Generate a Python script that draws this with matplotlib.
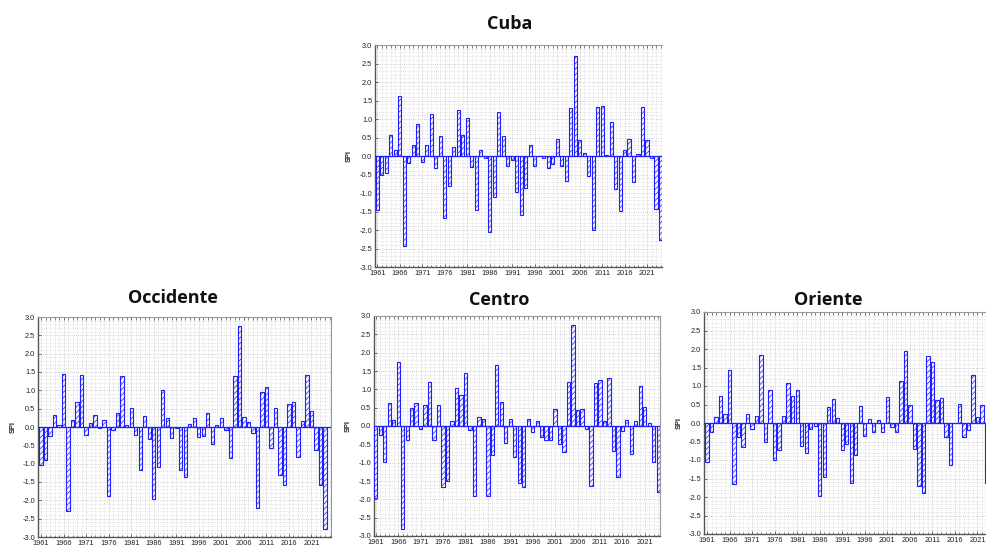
import numpy as np
import matplotlib.pyplot as plt
from matplotlib.ticker import MultipleLocator, FixedLocator

years = np.arange(1961, 2025)

cuba = [-1.46, -0.51, -0.46, 0.57, 0.15, 1.63, -2.43, -0.19, 0.30, 0.87,
        -0.16, 0.30, 1.13, -0.33, 0.54, -1.67, -0.82, 0.24, 1.25, 0.57,
        1.03, -0.30, -1.46, 0.17, -0.06, -2.06, -1.11, 1.20, 0.54, -0.27,
        -0.11, -0.97, -1.60, -0.87, 0.29, -0.27, 0.00, -0.05, -0.33, -0.22,
        0.47, -0.27, -0.68, 1.30, 2.70, 0.42, 0.08, -0.53, -2.00, 1.33,
        1.35, 0.02, 0.93, -0.88, -1.48, 0.17, 0.47, -0.70, 0.05, 1.33,
        0.42, -0.05, -1.42, -2.27]

occidente = [-1.03, -0.89, -0.25, 0.33, 0.05, 1.45, -2.28, 0.18, 0.68, 1.42,
             -0.21, 0.10, 0.33, -0.03, 0.19, -1.88, -0.08, 0.38, 1.39, 0.05,
             0.51, -0.22, -1.17, 0.31, -0.34, -1.95, -1.09, 1.00, 0.24, -0.30,
             -0.03, -1.17, -1.36, 0.08, 0.25, -0.26, -0.25, 0.38, -0.46, 0.05,
             0.25, -0.08, -0.85, 1.39, 2.75, 0.26, 0.14, -0.17, -2.20, 0.96,
             1.08, -0.57, 0.52, -1.32, -1.58, 0.63, 0.68, -0.82, 0.17, 1.43,
             0.43, -0.62, -1.58, -2.77]

centro = [-1.95, -0.24, -0.97, 0.64, 0.17, 1.75, -2.80, -0.39, 0.50, 0.64,
          -0.09, 0.56, 1.21, -0.39, 0.58, -1.65, -1.51, 0.15, 1.05, 0.85,
          1.45, -0.10, -1.92, 0.25, 0.20, -1.90, -0.78, 1.67, 0.65, -0.45,
          0.20, -0.85, -1.55, -1.65, 0.19, -0.16, 0.15, -0.30, -0.39, -0.39,
          0.46, -0.49, -0.71, 1.21, 2.76, 0.45, 0.47, -0.09, -1.64, 1.18,
          1.25, 0.13, 1.32, -0.69, -1.40, -0.14, 0.17, -0.75, 0.13, 1.10,
          0.53, 0.09, -0.98, -1.80]

# oriente: only up to 2023 fits in the frame
oriente = [-1.06, -0.25, 0.15, 0.74, 0.25, 1.43, -1.64, -0.39, -0.64, 0.23,
           -0.16, 0.18, 1.85, -0.52, 0.88, -0.99, -0.72, 0.19, 1.09, 0.74,
           0.88, -0.63, -0.81, -0.15, -0.07, -1.96, -1.45, 0.44, 0.66, 0.13,
           -0.73, -0.58, -1.62, -0.87, 0.47, -0.35, 0.12, -0.23, 0.07, -0.24,
           0.70, -0.12, -0.24, 1.13, 1.94, 0.48, -0.70, -1.69, -1.90, 1.81,
           1.64, 0.61, 0.67, -0.37, -1.14, 0.00, 0.52, -0.37, -0.19, 1.29,
           0.15, 0.48, -1.63]

year_ticks = list(range(1961, 2025, 5))
blue = "#1f1fff"

W, H = 987, 545
plt.rcParams["hatch.linewidth"] = 0.5
fig = plt.figure(figsize=(W / 100, H / 100), dpi=100)


def add_panel(left, top, right, bottom, xlim, values, title, title_xy, ylab_x,
              right_spine=True):
    ax = fig.add_axes([left / W, 1 - bottom / H, (right - left) / W, (bottom - top) / H])
    ax.set_facecolor("white")
    ax.bar(years[:len(values)], values, width=0.74, color="#f4f4ff",
           edgecolor=blue, hatch="//////", linewidth=0.8, zorder=3)
    ax.axhline(0, color=blue, lw=0.9, zorder=4)
    ax.set_xlim(*xlim)
    ax.set_ylim(-3.0, 3.0)

    ax.xaxis.set_major_locator(FixedLocator(year_ticks))
    ax.xaxis.set_minor_locator(MultipleLocator(1))
    ax.yaxis.set_major_locator(MultipleLocator(0.5))
    ax.yaxis.set_minor_locator(MultipleLocator(0.1))
    ax.set_yticklabels([f"{v:.1f}" for v in ax.get_yticks()])

    ax.grid(which="major", color="#bcbcbc", lw=0.6, ls=":", zorder=0)
    ax.grid(which="minor", color="#cfcfcf", lw=0.5, ls=":", zorder=0)

    ax.tick_params(which="both", direction="in", top=True, bottom=True,
                   left=True, right=False, colors="#555555",
                   labelcolor="#222222", labelsize=5.3, pad=2)
    ax.tick_params(which="major", length=2.5, width=0.6)
    ax.tick_params(which="minor", length=1.8, width=0.5)
    ax.tick_params(axis="y", which="minor", left=False)
    for lab in ax.get_xticklabels() + ax.get_yticklabels():
        lab.set_family("Liberation Sans")

    for side in ["left", "bottom"]:
        ax.spines[side].set_color("#555555")
        ax.spines[side].set_linewidth(1.0)
    ax.spines["top"].set_color("#999999")
    ax.spines["top"].set_linewidth(0.8)
    ax.spines["right"].set_color("#999999")
    ax.spines["right"].set_linewidth(0.8)
    ax.spines["right"].set_visible(right_spine)

    fig.text(title_xy[0] / W, 1 - title_xy[1] / H, title, ha="center",
             va="center", fontsize=13, fontweight="bold", family="Open Sans",
             color="#111111")
    fig.text(ylab_x / W, 1 - ((top + bottom) / 2) / H, "SPI", rotation=90,
             ha="center", va="center", fontsize=5.3, fontweight="bold",
             family="Liberation Sans", color="#222222")
    return ax


add_panel(375, 45, 662, 267, (1960.5, 2024.3), cuba, "Cuba", (510, 24), 349,
          right_spine=False)
add_panel(38, 317, 331, 537, (1960.33, 2025.33), occidente, "Occidente",
          (173, 298), 13)
add_panel(374, 316, 660, 536, (1960.6, 2024.4), centro, "Centro",
          (499, 300), 348)
add_panel(704, 312, 997, 534, (1960.33, 2025.33), oriente, "Oriente",
          (828, 300), 679, right_spine=False)

fig.savefig("out.png", dpi=100, facecolor="white")
